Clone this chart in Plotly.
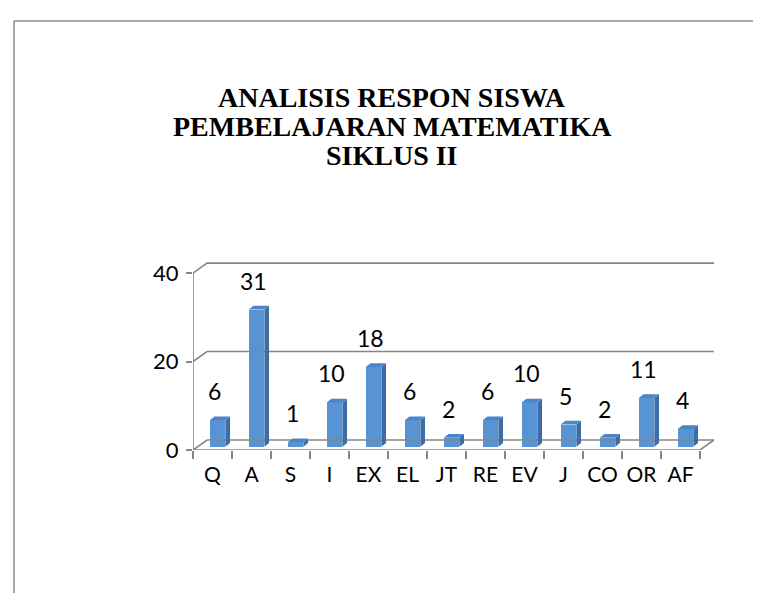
import plotly.graph_objects as go

# ---- data ----
categories = ["Q", "A", "S", "I", "EX", "EL", "JT", "RE", "EV", "J", "CO", "OR", "AF"]
values = [6, 31, 1, 10, 18, 6, 2, 6, 10, 5, 2, 11, 4]
y_ticks = [0, 20, 40]
title_lines = ["ANALISIS RESPON SISWA", "PEMBELAJARAN MATEMATIKA", "SIKLUS II"]

# ---- layout geometry (pixels) ----
W, H = 761, 593
ML, MR, MT, MB = 185, 55, 243, 151
PW, PH = W - ML - MR, H - MT - MB

def px_x(p):
    return (p - ML) / PW

def px_y(p):
    return (H - MB - p) / PH

# 3D styling constants (data units)
n = len(categories)
DX, DY = 0.36, 2.26          # floor / wall depth
OX, OY = 0.13, 0.75          # bar front-face offset
BX, BY = 0.12, 0.85          # bar depth
HW = 0.2                     # bar half width
XMAX = n - 0.5 + DX
YMAX = 45

GRID = "#868686"
FRONT = "#5893D4"
SIDE = "#3C6DA6"
TOP = "#4C86C8"
LABEL_FONT = "Lato, Open Sans, Liberation Sans, sans-serif"

fig = go.Figure()

# back wall gridlines + left diagonals
gx, gy = [], []
for v in y_ticks:
    gx += [-0.5, -0.5 + DX, n - 0.5 + DX, None]
    gy += [v, v + DY, v + DY, None]
# floor front edge and right diagonal
gx += [-0.5, n - 0.5, n - 0.5 + DX, None]
gy += [0, 0, DY, None]
# front vertical axis line
gx += [-0.5, -0.5, None]
gy += [0, y_ticks[-1], None]
fig.add_trace(go.Scatter(x=gx, y=gy, mode="lines", line=dict(color=GRID, width=1.6),
                         hoverinfo="skip", cliponaxis=False, showlegend=False))

# bar side faces and top faces
sx, sy, tx, ty = [], [], [], []
for i, v in enumerate(values):
    x0, x1 = i - HW + OX, i + HW + OX
    y0, y1 = OY, v + OY
    sx += [x1, x1 + BX, x1 + BX, x1, x1, None]
    sy += [y0, y0 + BY, y1 + BY, y1, y0, None]
    tx += [x0, x1, x1 + BX, x0 + BX, x0, None]
    ty += [y1, y1, y1 + BY, y1 + BY, y1, None]
fig.add_trace(go.Scatter(x=sx, y=sy, mode="lines", fill="toself", fillcolor=SIDE,
                         line=dict(width=0, color=SIDE), hoverinfo="skip", showlegend=False))
fig.add_trace(go.Scatter(x=tx, y=ty, mode="lines", fill="toself", fillcolor=TOP,
                         line=dict(width=0, color=TOP), hoverinfo="skip", showlegend=False))

# bar front faces
fig.add_trace(go.Bar(x=[i + OX for i in range(n)], y=values, base=[OY] * n,
                     width=2 * HW, marker=dict(color=FRONT, line=dict(width=0)),
                     showlegend=False, hoverinfo="skip"))

# data labels
for i, v in enumerate(values):
    fig.add_annotation(x=i + 0.06, y=v + OY, text=str(v), showarrow=False,
                       yanchor="bottom", yshift=13,
                       font=dict(family=LABEL_FONT, size=23, color="#000000"))

# title (three lines)
for k, line in enumerate(title_lines):
    fig.add_annotation(xref="paper", yref="paper", x=px_x(384), y=px_y(89 + 29 * k),
                       text="<b>" + line + "</b>", showarrow=False,
                       xanchor="center", yanchor="middle",
                       font=dict(family="Liberation Serif, Times New Roman, serif", size=28, color="#000000"))

# chart frame (cut off at right and bottom)
fig.add_shape(type="line", xref="paper", yref="paper", x0=px_x(6), x1=px_x(W + 5),
              y0=px_y(13), y1=px_y(13), line=dict(color="#8C8C8C", width=1.5))
fig.add_shape(type="line", xref="paper", yref="paper", x0=px_x(6), x1=px_x(6),
              y0=px_y(13), y1=px_y(H + 5), line=dict(color="#8C8C8C", width=1.5))

fig.update_layout(
    width=W, height=H,
    margin=dict(l=ML, r=MR, t=MT, b=MB, pad=0),
    paper_bgcolor="white", plot_bgcolor="white",
    bargap=0, showlegend=False,
    xaxis=dict(range=[-0.5, XMAX], tickmode="array", tickvals=list(range(n)), ticktext=categories,
               ticks="", showgrid=False, zeroline=False, showline=False,
               tickfont=dict(family=LABEL_FONT, size=21, color="#000000"),
               ticklabelstandoff=10,
               minor=dict(tickmode="array", tickvals=[k - 0.5 for k in range(n + 1)],
                          ticks="outside", ticklen=8, tickcolor=GRID, tickwidth=1.5, showgrid=False)),
    yaxis=dict(range=[0, YMAX], tickmode="array", tickvals=y_ticks,
               ticks="outside", ticklen=6, tickcolor=GRID, tickwidth=1.5,
               showgrid=False, zeroline=False, showline=False,
               tickfont=dict(family=LABEL_FONT, size=22, color="#000000"),
               ticklabelstandoff=3),
)

fig.write_html("out.html")
